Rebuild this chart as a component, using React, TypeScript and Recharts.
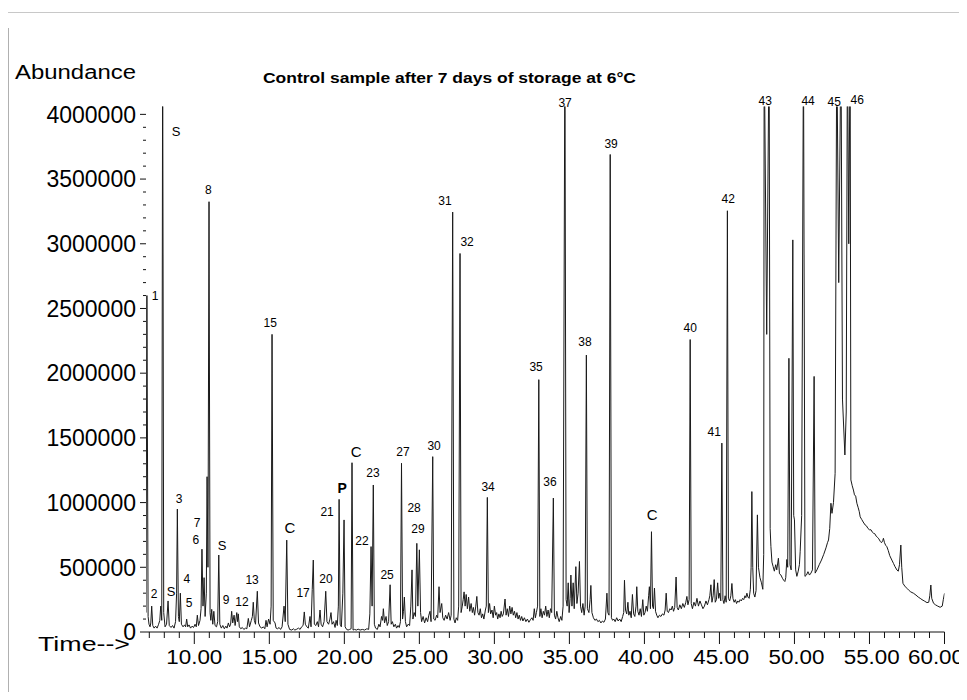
import React from 'react';
import { ComposedChart, Line, XAxis, YAxis, ReferenceDot } from 'recharts';

type Pt = [number, number];

// retention time (min), abundance (thousands)
const trace0720: Pt[] = [
  [6.78, 150], [6.84, 2600], [6.92, 120], [6.98, 60], [7.05, 40], [7.1, 70], [7.16, 200], [7.23, 50],
  [7.32, 30], [7.42, 45], [7.52, 30], [7.62, 60], [7.7, 90], [7.76, 200], [7.83, 90], [7.89, 4600],
  [7.96, 150], [8.05, 40], [8.15, 60], [8.25, 240], [8.33, 50], [8.45, 35], [8.55, 50], [8.65, 30],
  [8.75, 80], [8.82, 300], [8.87, 950], [8.94, 120], [9.0, 80], [9.07, 300], [9.14, 60], [9.25, 40],
  [9.35, 55], [9.42, 40], [9.49, 100], [9.56, 40], [9.65, 55], [9.75, 30], [9.85, 45], [9.95, 35],
  [10.05, 60], [10.13, 40], [10.2, 130], [10.28, 50], [10.38, 90], [10.45, 180], [10.51, 640], [10.58, 200],
  [10.65, 420], [10.72, 120], [10.8, 300], [10.85, 1200], [10.91, 500], [10.98, 3325], [11.05, 150], [11.1, 90],
  [11.16, 175], [11.23, 60], [11.3, 160], [11.38, 50], [11.48, 40], [11.56, 80], [11.63, 595], [11.7, 60],
  [11.8, 30], [11.9, 50], [12.0, 25], [12.1, 45], [12.18, 30], [12.27, 70], [12.35, 40], [12.42, 60],
  [12.49, 160], [12.56, 70], [12.65, 130], [12.72, 50], [12.83, 150], [12.88, 80], [12.93, 140], [13.0, 40],
  [13.1, 25], [13.2, 35], [13.3, 20], [13.42, 30], [13.5, 25], [13.6, 105], [13.68, 40], [13.8, 90],
  [13.87, 120], [13.93, 230], [14.0, 90], [14.08, 60], [14.2, 315], [14.28, 70], [14.38, 40], [14.5, 30],
  [14.6, 40], [14.7, 25], [14.78, 90], [14.85, 40], [14.95, 100], [15.05, 60], [15.12, 200], [15.18, 2300],
  [15.26, 90], [15.38, 70], [15.45, 30], [15.55, 25], [15.65, 35], [15.75, 20], [15.85, 40], [15.98, 200],
  [16.06, 80], [16.16, 710], [16.24, 60], [16.35, 20], [16.5, 15], [16.6, 25], [16.7, 15], [16.8, 20],
  [16.95, 30], [17.05, 20], [17.15, 40], [17.25, 50], [17.33, 155], [17.4, 60], [17.5, 40], [17.6, 30],
  [17.71, 120], [17.78, 40], [17.86, 330], [17.93, 556], [18.0, 60], [18.1, 50], [18.2, 80], [18.28, 40],
  [18.38, 170], [18.45, 60], [18.55, 40], [18.65, 80], [18.76, 315], [18.84, 80], [18.95, 60], [19.04, 100],
  [19.11, 150], [19.18, 60], [19.28, 80], [19.38, 35], [19.45, 90], [19.53, 50], [19.6, 200], [19.65, 1025],
  [19.72, 60], [19.8, 40], [19.9, 300], [19.98, 866], [20.05, 40], [20.15, 20], [20.25, 15], [20.35, 20],
  [20.45, 25],
];

const trace2035: Pt[] = [
  [20.51, 1308], [20.58, 15], [20.68, 20], [20.8, 15], [20.92, 22], [21.05, 15], [21.2, 20], [21.35, 15],
  [21.5, 25], [21.62, 20], [21.7, 140], [21.78, 660], [21.85, 200], [21.93, 1136], [22.0, 60], [22.08, 30],
  [22.2, 20], [22.3, 60], [22.38, 40], [22.48, 120], [22.55, 90], [22.6, 180], [22.68, 70], [22.78, 120],
  [22.86, 50], [22.95, 80], [23.05, 365], [23.12, 60], [23.2, 80], [23.3, 40], [23.4, 60], [23.48, 30],
  [23.58, 50], [23.66, 35], [23.74, 80], [23.81, 1304], [23.88, 100], [23.94, 160], [24.0, 270], [24.07, 80],
  [24.15, 40], [24.25, 60], [24.35, 50], [24.43, 200], [24.51, 480], [24.57, 100], [24.65, 150], [24.74, 120],
  [24.83, 685], [24.9, 200], [25.0, 635], [25.08, 150], [25.15, 80], [25.25, 120], [25.35, 70], [25.45, 110],
  [25.55, 80], [25.63, 130], [25.71, 160], [25.78, 80], [25.89, 1355], [25.96, 100], [26.05, 90], [26.15, 130],
  [26.22, 110], [26.31, 350], [26.38, 150], [26.49, 220], [26.56, 110], [26.65, 90], [26.75, 130], [26.85, 100],
  [26.95, 150], [27.05, 90], [27.12, 130], [27.22, 3245], [27.3, 100], [27.38, 70], [27.46, 110], [27.55, 90],
  [27.62, 200], [27.71, 2925], [27.78, 150], [27.86, 200], [27.92, 250], [27.98, 310], [28.05, 200], [28.12, 290],
  [28.2, 180], [28.28, 270], [28.36, 160], [28.45, 220], [28.53, 150], [28.6, 190], [28.68, 130], [28.76, 200],
  [28.83, 275], [28.9, 150], [28.98, 130], [29.06, 180], [29.14, 110], [29.22, 140], [29.3, 100], [29.4, 170],
  [29.46, 200], [29.53, 1040], [29.6, 150], [29.68, 220], [29.75, 140], [29.84, 170], [29.92, 110], [30.0, 200],
  [30.08, 130], [30.15, 150], [30.22, 100], [30.3, 140], [30.38, 110], [30.45, 160], [30.52, 120], [30.6, 140],
  [30.71, 255], [30.78, 130], [30.86, 180], [30.94, 120], [31.02, 200], [31.1, 140], [31.18, 190], [31.26, 130],
  [31.34, 160], [31.42, 110], [31.5, 150], [31.58, 100], [31.66, 130], [31.74, 90], [31.82, 120], [31.9, 85],
  [32.0, 110], [32.1, 80], [32.2, 100], [32.3, 75], [32.4, 95], [32.5, 110], [32.58, 90], [32.66, 180],
  [32.73, 110], [32.8, 150], [32.88, 200], [32.96, 1950], [33.03, 120], [33.1, 180], [33.18, 110], [33.26, 160],
  [33.34, 130], [33.42, 200], [33.5, 120], [33.58, 170], [33.66, 110], [33.74, 180], [33.82, 150], [33.93, 1035],
  [34.0, 130], [34.08, 100], [34.16, 160], [34.24, 110], [34.32, 80], [34.42, 120], [34.5, 90], [34.58, 200],
  [34.7, 4600], [34.78, 250], [34.85, 200], [34.92, 380], [34.98, 150],
];

const trace3547: Pt[] = [
  [35.05, 260], [35.1, 440], [35.17, 200], [35.25, 380], [35.32, 180], [35.43, 505], [35.5, 220], [35.58, 300],
  [35.67, 545], [35.74, 200], [35.82, 150], [35.9, 220], [35.98, 130], [36.05, 200], [36.13, 2140], [36.2, 180],
  [36.3, 150], [36.38, 250], [36.43, 360], [36.5, 150], [36.6, 110], [36.7, 90], [36.8, 100], [36.9, 80],
  [37.0, 90], [37.1, 70], [37.2, 85], [37.3, 75], [37.4, 100], [37.5, 300], [37.56, 150], [37.64, 130],
  [37.72, 3690], [37.8, 110], [37.88, 90], [37.96, 100], [38.05, 80], [38.15, 110], [38.25, 85], [38.35, 100],
  [38.45, 80], [38.55, 120], [38.62, 150], [38.67, 400], [38.74, 170], [38.82, 140], [38.9, 230], [38.96, 130],
  [39.04, 160], [39.12, 110], [39.2, 290], [39.28, 140], [39.36, 120], [39.44, 200], [39.49, 350], [39.56, 160],
  [39.64, 130], [39.72, 180], [39.8, 120], [39.89, 250], [39.96, 130], [40.04, 150], [40.12, 200], [40.2, 160],
  [40.28, 280], [40.33, 350], [40.4, 180], [40.47, 775], [40.54, 200], [40.6, 180], [40.67, 340], [40.74, 160],
  [40.82, 130], [40.9, 110], [41.0, 130], [41.1, 120], [41.2, 140], [41.3, 130], [41.38, 170], [41.45, 300],
  [41.52, 160], [41.6, 150], [41.7, 180], [41.78, 170], [41.86, 200], [41.94, 160], [42.02, 190], [42.11, 425],
  [42.18, 190], [42.26, 170], [42.36, 210], [42.46, 180], [42.56, 220], [42.66, 190], [42.76, 230], [42.83, 275],
  [42.9, 210], [42.98, 250], [43.05, 2260], [43.12, 220], [43.2, 180], [43.3, 230], [43.4, 200], [43.5, 260],
  [43.6, 200], [43.7, 240], [43.8, 210], [43.9, 180], [44.0, 200], [44.1, 240], [44.2, 210], [44.3, 250],
  [44.36, 280], [44.43, 365], [44.5, 230], [44.58, 280], [44.65, 405], [44.72, 230], [44.8, 250], [44.88, 380],
  [44.95, 260], [45.02, 300], [45.09, 240], [45.16, 1460], [45.23, 250], [45.3, 220], [45.38, 280], [45.45, 230],
  [45.53, 3255], [45.6, 260], [45.68, 240], [45.76, 280], [45.83, 375], [45.9, 260], [45.98, 230], [46.06, 250],
  [46.14, 220], [46.22, 240], [46.3, 230], [46.38, 250], [46.46, 240], [46.54, 260], [46.62, 250], [46.7, 280],
  [46.76, 265], [46.83, 300], [46.9, 270], [46.98, 260], [47.06, 330], [47.11, 500], [47.16, 1085], [47.22, 500],
  [47.28, 300], [47.36, 270], [47.44, 320], [47.53, 905], [47.6, 500], [47.7, 420], [47.8, 380], [47.89, 330],
];

const trace4760: Pt[] = [
  [47.95, 600], [47.98, 4600], [48.15, 2300], [48.31, 4600], [48.38, 800], [48.43, 660], [48.5, 540], [48.58, 505],
  [48.66, 470], [48.75, 520], [48.82, 480], [48.93, 570], [49.0, 450], [49.1, 440], [49.2, 415], [49.28, 400],
  [49.36, 390], [49.42, 420], [49.49, 560], [49.55, 500], [49.63, 2115], [49.7, 520], [49.78, 480], [49.89, 3030],
  [49.95, 900], [50.0, 866], [50.08, 480], [50.16, 430], [50.25, 470], [50.33, 520], [50.38, 620], [50.48, 900],
  [50.6, 4600], [50.7, 430], [50.8, 440], [50.9, 466], [51.0, 440], [51.1, 455], [51.2, 480], [51.31, 1975],
  [51.38, 455], [51.5, 480], [51.65, 520], [51.8, 556], [51.95, 600], [52.1, 650], [52.2, 690], [52.27, 711],
  [52.35, 800], [52.43, 995], [52.5, 917], [52.6, 1000], [52.71, 1226], [52.82, 4600], [52.95, 2700], [53.1, 4600],
  [53.2, 1800], [53.36, 1368], [53.45, 1700], [53.53, 4600], [53.62, 3000], [53.71, 4600], [53.76, 1175], [53.85, 1130],
  [53.93, 1097], [54.0, 1060], [54.08, 1050], [54.16, 995], [54.25, 960], [54.32, 930], [54.38, 890], [54.48, 870],
  [54.58, 850], [54.71, 827], [54.8, 820], [54.9, 800], [55.0, 790], [55.1, 790], [55.2, 770], [55.27, 763],
  [55.35, 760], [55.45, 740], [55.55, 730], [55.62, 720], [55.72, 700], [55.8, 690], [55.88, 705], [55.93, 724],
  [56.0, 690], [56.08, 670], [56.16, 659], [56.25, 630], [56.35, 590], [56.49, 556], [56.6, 530], [56.7, 505],
  [56.83, 479], [56.92, 470], [57.0, 520], [57.09, 672], [57.15, 500], [57.23, 376], [57.35, 355], [57.49, 338],
  [57.6, 325], [57.75, 310], [57.94, 299], [58.1, 285], [58.25, 270], [58.38, 260], [58.5, 250], [58.65, 240],
  [58.83, 227], [58.95, 230], [59.02, 280], [59.09, 363], [59.15, 260], [59.27, 222], [59.4, 210], [59.55, 200],
  [59.71, 191], [59.85, 200], [59.92, 250], [60.0, 299],
];

// peak annotations: text, time, abundance (thousands) where the text sits
const labelText = ['S', '8', '1', '15', '3', '7', '6', 'S', 'C', '4', '13', '2', 'S', '5', '9', '12', '17', '20',
  '21', 'P', 'C', '23', '22', '25', '27', '28', '29', '30', '31', '32', '34', '35', '36', '37', '38', '39', 'C',
  '40', '41', '42', '43', '44', '45', '46'];
const labelTime = [8.79, 10.93, 7.38, 15.06, 8.98, 10.18, 10.11, 11.85, 16.38, 9.51, 13.85, 7.32, 8.45, 9.65, 12.11,
  13.18, 17.25, 18.78, 18.85, 19.85, 20.78, 21.91, 21.18, 22.85, 23.91, 24.65, 24.91, 25.98, 26.71, 28.18, 29.58,
  32.78, 33.71, 34.71, 36.04, 37.78, 40.51, 43.05, 44.65, 45.58, 48.05, 50.91, 52.65, 54.18];
const labelAbund = [3872, 3416, 2597, 2388, 1028, 842, 711, 672, 804, 410, 402, 294, 317, 224, 247, 232, 301, 410,
  927, 1113, 1391, 1229, 703, 440, 1391, 958, 796, 1437, 3331, 3014, 1121, 2048, 1159, 4088, 2241, 3771, 904,
  2349, 1546, 3346, 4104, 4104, 4096, 4111];

const yMajor = [0, 500000, 1000000, 1500000, 2000000, 2500000, 3000000, 3500000, 4000000];
const xMajor = [10, 15, 20, 25, 30, 35, 40, 45, 50, 55, 60];

const yTicks = Array.from({ length: 41 }, (_, i) => i * 100000);
const xTicks = Array.from({ length: 54 }, (_, i) => 7 + i);

const data = [...trace0720, ...trace2035, ...trace3547, ...trace4760].map(([t, a]) => ({ t, abundance: a * 1000 }));
const labels = labelText.map((text, i) => ({ text, t: labelTime[i], a: labelAbund[i] * 1000 }));

const FONT = '"Liberation Sans", Arial, sans-serif';
const INK = '#111';

const XTick = (props: any) => {
  const { x, y, payload } = props;
  const major = xMajor.includes(payload.value);
  // labels sit a little right of their ticks, but the last one has to stay inside the page
  const cx = Math.min(x + (payload.value - 10) * 0.05, 936);
  return (
    <g>
      <line x1={x} x2={x} y1={y} y2={y + (major ? 12 : 6)} stroke={INK} strokeWidth={1} />
      {major && (
        <text x={cx} y={y + 32} textAnchor="middle" fontSize={20} fontFamily={FONT} fill="#000"
          textLength={56} lengthAdjust="spacingAndGlyphs">
          {payload.value.toFixed(2)}
        </text>
      )}
    </g>
  );
};

const YTick = (props: any) => {
  const { x, y, payload } = props;
  const major = yMajor.includes(payload.value);
  return (
    <g>
      <line x1={x} x2={x - (major ? 6 : 3)} y1={y} y2={y} stroke={INK} strokeWidth={1} />
      {major && (
        <text x={x - 10} y={y + 8.3} textAnchor="end" fontSize={23} fontFamily={FONT} fill="#000">
          {payload.value}
        </text>
      )}
    </g>
  );
};

const labelStyle = (text: string) => {
  if (text === 'C') return { fontSize: 15, fontWeight: 400 };
  if (text === 'S') return { fontSize: 13, fontWeight: 400 };
  if (text === 'P') return { fontSize: 14, fontWeight: 700 };
  return { fontSize: 12, fontWeight: 400 };
};

const App = () => {
  return (
    <div style={{ position: 'relative', width: 967, height: 700, margin: -8, overflow: 'hidden', background: '#fff' }}>
      <ComposedChart width={967} height={700} data={data} margin={{ top: 106.6, right: 22.5, bottom: 28, left: 0 }}>
        <XAxis dataKey="t" type="number" domain={[6.78, 60]} allowDataOverflow ticks={xTicks} interval={0}
          tickSize={0} tickMargin={0} tickLine={false} axisLine={{ stroke: INK }} tick={(p: any) => <XTick {...p} />}
          height={40} />
        <YAxis type="number" domain={[0, 4060000]} allowDataOverflow ticks={yTicks} interval={0} width={146}
          tickSize={0} tickMargin={0} tickLine={false} axisLine={false} tick={(p: any) => <YTick {...p} />} />
        <Line type="linear" dataKey="abundance" stroke="#1a1a1a" strokeWidth={1} dot={false}
          isAnimationActive={false} />
        {labels.map((l, i) => {
          const s = labelStyle(l.text);
          return (
            <ReferenceDot key={i} x={l.t} y={l.a} r={0} ifOverflow="visible"
              shape={(p: any) => (
                <text x={p.cx} y={p.cy} dy="0.36em" textAnchor="middle" fontFamily={FONT}
                  fontSize={s.fontSize} fontWeight={s.fontWeight} fill="#000">
                  {l.text}
                </text>
              )} />
          );
        })}
      </ComposedChart>
      <svg width={967} height={700} style={{ position: 'absolute', left: 0, top: 0, pointerEvents: 'none' }}>
        <line x1={0} x2={967} y1={12.5} y2={12.5} stroke="#c8c8c8" strokeWidth={1} />
        <line x1={8.5} x2={8.5} y1={28} y2={692} stroke="#b0b0b0" strokeWidth={1} />
        <text x={15} y={79} fontSize={20} fontFamily={FONT} fill="#000" textLength={121}
          lengthAdjust="spacingAndGlyphs">Abundance</text>
        <text x={263} y={83} fontSize={15.5} fontWeight={700} fontFamily={FONT} fill="#000" textLength={373}
          lengthAdjust="spacingAndGlyphs">Control sample after 7 days of storage at 6°C</text>
        <text x={38} y={650.5} fontSize={19.5} fontFamily={FONT} fill="#000" textLength={92}
          lengthAdjust="spacingAndGlyphs">Time--&gt;</text>
      </svg>
    </div>
  );
};

export default App;
